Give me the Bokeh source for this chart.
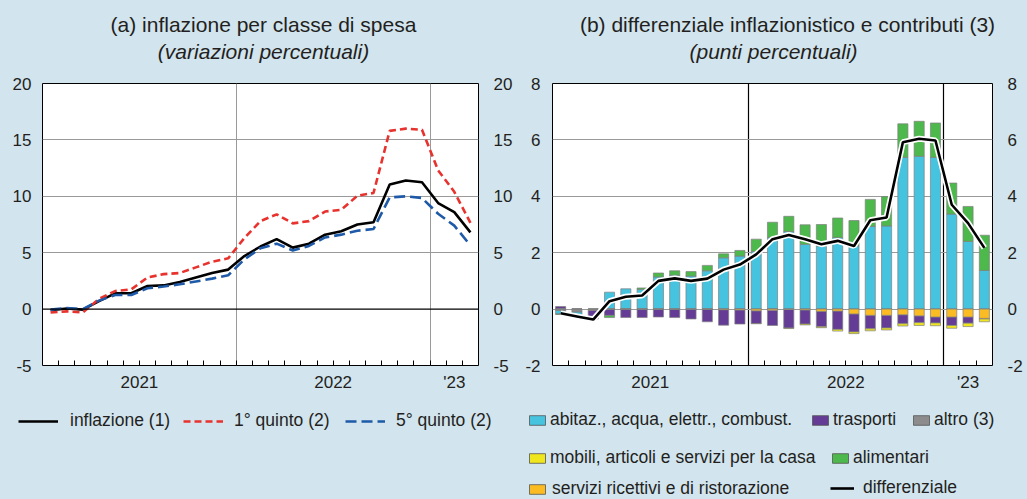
import re
from bokeh.plotting import figure
from bokeh.models import (ColumnDataSource, Range1d, LinearAxis, FixedTicker, Span,
                          Legend, LegendItem, Label)
from bokeh.layouts import row, column
from bokeh.core.properties import value
from bokeh.embed import file_html
from bokeh.resources import INLINE

# ---------------- data ----------------
mesi = list(range(27))  # gen 2021 ... mar 2023 (month index)
tick_pos = [5.5, 17.5, 25.0]
tick_labels = ["2021", "2022", "'23"]
anni_sep = [11.5, 23.5]

# panel (a): variazioni percentuali
inflazione = [-0.1, 0.05, -0.05, 0.7, 1.4, 1.4, 2.05, 2.1, 2.4, 2.8, 3.2, 3.5,
              4.7, 5.55, 6.2, 5.45, 5.8, 6.6, 6.9, 7.5, 7.7, 11.05, 11.4, 11.25,
              9.4, 8.6, 6.8]
quinto1 = [-0.3, -0.2, -0.3, 0.9, 1.6, 1.75, 2.8, 3.1, 3.2, 3.7, 4.2, 4.5,
           6.3, 7.8, 8.4, 7.6, 7.8, 8.65, 8.8, 10.05, 10.3, 15.8, 16.0, 15.9,
           12.3, 10.4, 7.65]
quinto5 = [-0.05, 0.1, 0.0, 0.75, 1.25, 1.25, 1.85, 2.0, 2.2, 2.45, 2.7, 3.0,
           4.4, 5.4, 5.8, 5.2, 5.6, 6.35, 6.6, 6.95, 7.1, 9.9, 10.0, 9.85,
           8.45, 7.4, 5.65]

# panel (b): punti percentuali
abitaz = [-0.12, -0.12, -0.1, 0.6, 0.72, 0.7, 1.14, 1.2, 1.17, 1.36, 1.82, 1.88,
          2.04, 2.54, 2.75, 2.3, 2.24, 2.54, 2.24, 2.93, 2.95, 5.38, 5.42, 5.38,
          3.37, 2.4, 1.37]
trasporti = [0.09, 0.0, -0.2, -0.22, -0.3, -0.3, -0.28, -0.3, -0.35, -0.45, -0.55, -0.5,
             -0.45, -0.54, -0.66, -0.5, -0.55, -0.65, -0.64, -0.48, -0.45, -0.32, -0.24, -0.21,
             -0.3, -0.22, -0.02]
altro = [-0.05, -0.1, -0.05, 0.0, 0.0, 0.0, 0.0, 0.0, 0.0, 0.0, 0.0, 0.0,
         0.0, 0.0, 0.0, 0.0, 0.0, 0.0, 0.0, 0.0, 0.0, 0.0, 0.0, 0.0,
         0.0, 0.0, 0.0]
mobili = [0.0, 0.0, 0.0, 0.0, 0.0, 0.0, 0.0, 0.0, 0.0, 0.0, 0.0, 0.0,
          -0.01, 0.0, -0.02, -0.03, -0.03, -0.06, -0.06, -0.07, -0.07, -0.08, -0.1, -0.1,
          -0.1, -0.12, -0.1]
alimentari = [-0.02, 0.0, 0.0, -0.08, 0.0, 0.05, 0.14, 0.16, 0.16, 0.19, 0.14, 0.2,
              0.44, 0.54, 0.54, 0.69, 0.76, 0.69, 0.9, 0.96, 1.04, 1.19, 1.24, 1.22,
              1.1, 1.24, 1.25]
servizi = [0.0, 0.0, 0.0, 0.0, 0.0, 0.0, 0.0, 0.0, 0.0, 0.0, -0.02, -0.03,
           -0.06, -0.04, -0.01, -0.03, -0.08, -0.07, -0.17, -0.22, -0.22, -0.2, -0.24, -0.28,
           -0.28, -0.28, -0.33]
differenziale = [-0.15, -0.26, -0.37, 0.28, 0.44, 0.48, 1.0, 1.09, 1.0, 1.08, 1.4, 1.58,
                 1.94, 2.48, 2.63, 2.48, 2.3, 2.42, 2.24, 3.15, 3.25, 5.92, 6.04, 5.98,
                 3.7, 3.05, 2.17]

# ---------------- style ----------------
BG = "#d2e4ee"
FONT = "Liberation Sans"
TXT = "#231f20"
TICK_FS = "17px"
LEG_FS = "17.5px"
TITLE_FS = "21px"
W1, W2 = 515, 512
H_TITLE, H_MAIN, H_LEG = 70, 330, 99
NAN = float("nan")

COL = {
    "abitaz": "#46c3de",
    "trasporti": "#643c96",
    "altro": "#8c8c8c",
    "mobili": "#f0e61e",
    "alimentari": "#4db84b",
    "servizi": "#fbbb22",
}


def blank_fig(width, height):
    p = figure(width=width, height=height, x_range=Range1d(0, width), y_range=Range1d(0, height),
               x_axis_type=None, y_axis_type=None, output_backend="svg", toolbar_location=None,
               min_border=0, outline_line_color=None,
               background_fill_color=BG, border_fill_color=BG)
    p.title.visible = False
    return p


def style_axes(p, yticks, left_standoff, right_standoff):
    overrides = {float(t): ("-%g" % abs(t) if t < 0 else "%g" % t) for t in yticks}
    p.yaxis.ticker = FixedTicker(ticks=yticks)
    raxis = LinearAxis(ticker=FixedTicker(ticks=yticks))
    p.add_layout(raxis, "right")
    for ax, so in ((p.yaxis[0], left_standoff), (raxis, right_standoff)):
        ax.axis_line_color = None
        ax.major_tick_in = 0
        ax.major_tick_out = 0
        ax.minor_tick_in = 0
        ax.minor_tick_out = 0
        ax.major_label_overrides = overrides
        ax.major_label_text_font = FONT
        ax.major_label_text_font_size = TICK_FS
        ax.major_label_text_color = TXT
        ax.major_label_standoff = so
    xa = p.xaxis[0]
    xa.ticker = FixedTicker(ticks=tick_pos,
                            minor_ticks=[m + 0.5 for m in mesi[:-1]])
    xa.major_label_overrides = {float(t): l for t, l in zip(tick_pos, tick_labels)}
    xa.axis_line_color = None
    xa.major_tick_in = 0
    xa.major_tick_out = 0
    xa.minor_tick_in = 5
    xa.minor_tick_out = 0
    xa.minor_tick_line_color = "black"
    xa.major_label_text_font = FONT
    xa.major_label_text_font_size = TICK_FS
    xa.major_label_text_color = TXT
    xa.major_label_standoff = 7


def make_fig(width, yr, mbl, mbr):
    p = figure(width=width, height=H_MAIN, x_range=Range1d(-0.5, 26.5), y_range=Range1d(*yr),
               output_backend="svg", toolbar_location=None,
               min_border_left=mbl, min_border_right=mbr, min_border_top=13, min_border_bottom=35,
               background_fill_color="white", border_fill_color=BG,
               outline_line_color="black", outline_line_width=1)
    p.title.visible = False
    return p


def add_legend(p, label, rend, vx, vy, gw, gh, standoff):
    lg = Legend(items=[LegendItem(label=value(label), renderers=[rend])],
                location=(vx, vy), orientation="horizontal",
                padding=0, margin=0, spacing=0,
                glyph_width=gw, glyph_height=gh, label_standoff=standoff, label_height=20,
                label_text_font=FONT, label_text_font_size=LEG_FS, label_text_color=TXT,
                background_fill_alpha=0, border_line_color=None)
    p.add_layout(lg)


def add_title(p, text, x, y, italic=False):
    p.add_layout(Label(x=x, y=y, x_units="screen", y_units="screen", text=text,
                       text_align="center", text_baseline="middle",
                       text_font=FONT, text_font_size=TITLE_FS, text_color=TXT,
                       text_font_style="italic" if italic else "normal"))


# ---------------- titles ----------------
t1 = blank_fig(W1, H_TITLE)
add_title(t1, "(a) inflazione per classe di spesa", 263, 46)
add_title(t1, "(variazioni percentuali)", 263, 19, italic=True)
t2 = blank_fig(W2, H_TITLE)
add_title(t2, "(b) differenziale inflazionistico e contributi (3)", 272, 46)
add_title(t2, "(punti percentuali)", 258, 19, italic=True)

# ---------------- panel (a) ----------------
p1 = make_fig(W1, (-5, 20), 42, 37)
style_axes(p1, [-5, 0, 5, 10, 15, 20], 11, 15)
p1.xgrid.ticker = FixedTicker(ticks=anni_sep)
p1.xgrid.grid_line_color = "#9a9a9a"
p1.ygrid.ticker = FixedTicker(ticks=[5, 10, 15])
p1.ygrid.grid_line_color = "#9a9a9a"
p1.add_layout(Span(location=0, dimension="width", line_color="black", line_width=1.2))

src_a = ColumnDataSource(dict(x=mesi, infl=inflazione, q1=quinto1, q5=quinto5))
STY_INF = dict(line_color="black", line_width=2.6)
STY_Q1 = dict(line_color="#e8322e", line_width=2.6, line_dash="7 4")
STY_Q5 = dict(line_color="#1e5aa8", line_width=2.6, line_dash="11 5")
p1.line("x", "infl", source=src_a, **STY_INF)
p1.line("x", "q1", source=src_a, **STY_Q1)
p1.line("x", "q5", source=src_a, **STY_Q5)

# ---------------- panel (b) ----------------
p2 = make_fig(W2, (-2, 8), 37, 35)
style_axes(p2, [-2, 0, 2, 4, 6, 8], 12, 15)
p2.xgrid.ticker = FixedTicker(ticks=anni_sep)
p2.xgrid.grid_line_color = "black"
p2.xgrid.grid_line_width = 1.2
p2.ygrid.ticker = FixedTicker(ticks=[0, 2, 4, 6])
p2.ygrid.grid_line_color = "#9a9a9a"

series = {
    "abitaz": abitaz,
    "trasporti": trasporti,
    "altro": altro,
    "mobili": mobili,
    "alimentari": alimentari,
    "servizi": servizi,
}
pos_order = ["abitaz", "alimentari", "trasporti", "altro", "mobili", "servizi"]
neg_order = ["altro", "servizi", "trasporti", "mobili", "abitaz", "alimentari"]
n = len(mesi)
bottoms = {k: [0.0] * n for k in series}
tops = {k: [0.0] * n for k in series}
cum_pos = [0.0] * n
cum_neg = [0.0] * n
for k in pos_order:
    for i, v in enumerate(series[k]):
        if v > 0:
            bottoms[k][i] = cum_pos[i]
            cum_pos[i] += v
            tops[k][i] = cum_pos[i]
for k in neg_order:
    for i, v in enumerate(series[k]):
        if v < 0:
            tops[k][i] = cum_neg[i]
            cum_neg[i] += v
            bottoms[k][i] = cum_neg[i]

BAR_LINE = dict(line_color="#7f7f7f", line_width=0.7)
for k in pos_order:
    s = ColumnDataSource(dict(x=mesi, bottom=bottoms[k], top=tops[k]))
    p2.vbar(x="x", bottom="bottom", top="top", width=0.62, source=s,
            fill_color=COL[k], **BAR_LINE)

src_d = ColumnDataSource(dict(x=mesi, d=differenziale))
p2.line("x", "d", source=src_d, line_color="white", line_width=6)
STY_DIFF = dict(line_color="black", line_width=2.6)
p2.line("x", "d", source=src_d, **STY_DIFF)

# ---------------- legends ----------------
l1 = blank_fig(W1, H_LEG)
e = dict(x=[NAN], y=[NAN])
add_legend(l1, "inflazione (1)", l1.line(**e, **STY_INF), 18, 68, 40, 10, 12)
add_legend(l1, "1° quinto (2)", l1.line(**e, **STY_Q1), 183, 68, 40, 10, 11)
add_legend(l1, "5° quinto (2)", l1.line(**e, **STY_Q5), 345, 68, 40, 10, 11)

l2 = blank_fig(W2, H_LEG)
eb = dict(x=[NAN], top=[NAN], width=0.6)


def swatch(k):
    return l2.vbar(**eb, fill_color=COL[k], line_color="#555555", line_width=0.8)


add_legend(l2, "abitaz., acqua, elettr., combust.", swatch("abitaz"), 12, 69, 20, 12, 3)
add_legend(l2, "trasporti", swatch("trasporti"), 295, 69, 20, 12, 3)
add_legend(l2, "altro (3)", swatch("altro"), 396, 69, 20, 12, 3)
add_legend(l2, "mobili, articoli e servizi per la casa", swatch("mobili"), 12, 31, 20, 12, 3)
add_legend(l2, "alimentari", swatch("alimentari"), 315, 31, 20, 12, 3)
add_legend(l2, "servizi ricettivi e di ristorazione", swatch("servizi"), 12, 0, 20, 12, 5)
add_legend(l2, "differenziale", l2.line(**e, **STY_DIFF), 315, 1, 24, 10, 9)

layout = column(row(t1, t2), row(p1, p2), row(l1, l2))
html = file_html(layout, INLINE, title="inflazione")
html = re.sub(r"<body([^>]*)>", lambda m: '<body%s style="background-color:%s;">' % (m.group(1), BG),
              html, count=1)
html = re.sub(r"<html([^>]*)>", lambda m: '<html%s style="background-color:%s;">' % (m.group(1), BG),
              html, count=1)
open("out.html", "w").write(html)
